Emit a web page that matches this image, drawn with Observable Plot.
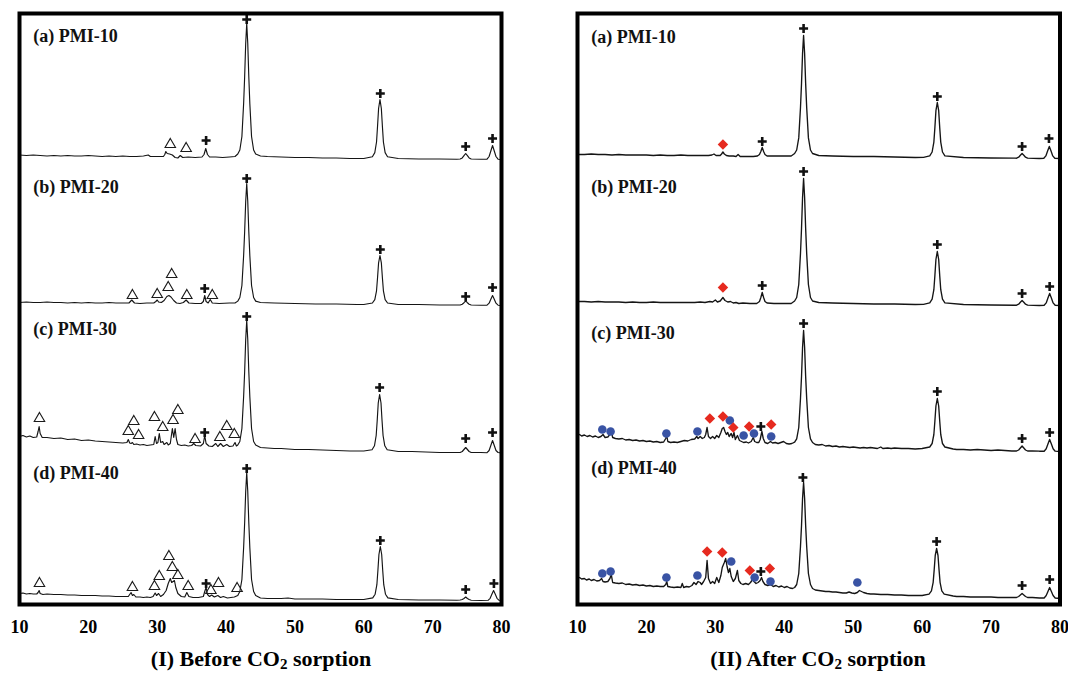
<!DOCTYPE html>
<html><head><meta charset="utf-8">
<script src="https://cdn.jsdelivr.net/npm/d3@7"></script>
<script src="https://cdn.jsdelivr.net/npm/@observablehq/plot@0.6"></script>
<style>
body{margin:0;background:#fff;}
#root{position:relative;width:1068px;height:673px;overflow:hidden;background:#fff}
.panel{position:absolute;top:0}
.panel svg{overflow:visible;font-family:"Liberation Serif","Times New Roman",serif;font-size:18px;font-weight:bold;fill:#000}
.title{position:absolute;top:646px;font-family:"Liberation Serif","Times New Roman",serif;font-weight:bold;font-size:22px;line-height:26px;text-align:center;white-space:nowrap;color:#000}
.title sub{font-size:15px;vertical-align:-3px;line-height:0}
</style></head>
<body><div id="root"></div>
<script>
// ---------- data ----------
const xTicks = [10,20,30,40,50,60,70,80];
const sampleNames = ["(a) PMI-10","(b) PMI-20","(c) PMI-30","(d) PMI-40"];
const panelTitleHead = ["(I) Before CO","(II) After CO"];
const panelTitleSub = "2";
const panelTitleTail = " sorption";

// (I) Before CO2 sorption: [2theta, intensity]
const beforeA = [[10,4.5],[11,4],[12,4.5],[13,4],[14,3.5],[15,4],[16,3.5],[17,4],[18,3.5],[19,3.5],[20,4],[21,3.5],[22,3],[23,3.5],[24,3],[25,3.5],[26,3],[27,3],[28,3.5],[28.7,4.5],[29,3],[30,3],[30.9,3],[31.1,5],[31.25,8],[31.45,6],[31.8,5.5],[32.2,4.5],[32.6,2],[33.0,1.5],[33.35,4],[33.7,2],[34.5,2.5],[35.5,2],[36.5,2.5],[36.8,5],[37.05,11],[37.3,5],[37.6,2.5],[38.5,2.5],[39.5,2],[40.5,2.5],[41.3,3],
[41.7,5.5],[42.0,9.5],[42.3,23],[42.55,56],[42.7,83],[42.85,116],[43.0,136],[43.15,116],[43.3,83],[43.45,56],[43.7,23],[44.0,9.5],[44.3,5.5],
[45,3.5],[46,3],[48,2.5],[50,2],[52,2],[54,1.5],[56,1.5],[58,1],[60,1],
[61.25,2.8],[61.6,6.9],[61.85,17.5],[62.0,33.5],[62.15,51],[62.35,60],[62.55,51],[62.7,33.5],[62.85,17.5],[63.1,6.9],[63.45,2.8],
[65,1],[68,0.5],[71,0.5],[73.5,0.3],[74.0,0.5],[74.3,1.6],[74.55,3.8],[74.8,6],[75.05,3.8],[75.3,1.6],[75.6,0.5],
[77,0.3],[77.9,0.3],[78.2,3],[78.45,8.5],[78.7,14],[78.95,8.5],[79.2,3],[79.5,0.3],[80,0]];
const beforeB = [[10,3],[11,3.5],[12,3],[13,3],[14,3.5],[15,3],[16,3],[17,2.5],[18,3],[19,2.5],[20,3],[21,2.5],[22,2.5],[23,3],[24,2.5],[25,2.5],[25.9,2.5],[26.3,5.5],[26.7,2.5],[27.5,2],[28.5,2.5],[29.5,2.5],[29.8,4],[30.0,5.5],[30.2,3.5],[30.6,3],[31.0,5],[31.4,9],[31.7,10],[32.0,8.5],[32.4,5],[32.8,2.5],[33.3,2],[33.8,3],[34.2,5.5],[34.6,2.5],[35.5,2],[36.4,2],[36.7,4],[36.9,10],[37.1,4],[37.4,2.5],[37.7,6],[38.0,2.5],[39,2],[40.5,2.5],[41.3,2.5],
[41.7,4.4],[42.0,8],[42.3,20],[42.55,50],[42.7,74],[42.85,104],[43.0,122],[43.15,104],[43.3,74],[43.45,50],[43.7,20],[44.0,8],[44.3,4.4],
[45,3],[47,2.5],[50,2],[53,1.5],[56,1.5],[59,1],[60,1],
[61.25,2.5],[61.6,5.9],[61.85,14.7],[62.0,28],[62.15,42.7],[62.35,50],[62.55,42.7],[62.7,28],[62.85,14.7],[63.1,5.9],[63.45,2.5],
[65,1],[68,1],[71,0.5],[73.5,0.5],[74.0,0.5],[74.3,1.3],[74.55,2.8],[74.8,4.5],[75.05,2.8],[75.3,1.3],[75.6,0.5],
[77,0.3],[77.9,0.3],[78.2,2.3],[78.45,6.3],[78.7,10],[78.95,6.3],[79.2,2.3],[79.5,0.3],[80,0]];
const beforeC = [[10,17],[10.5,18],[11,16.5],[11.5,17.5],[12,16],[12.5,16.5],[12.7,22],[12.85,27],[13.0,20],[13.3,16],[14,16],[15,15],[16,15.5],[17,14],[18,14.5],[19,13],[20,13.5],[21,12.5],[22,12],[23,11.5],[24,11],[25,10.5],[25.6,11],[25.8,14],[26.0,10.5],[26.2,10],[26.4,11],[26.6,9],[27,9.5],[27.5,8.5],[28,9],[28.5,8],[29,8.5],[29.5,9],[29.7,17],[29.9,10],[30.1,11],[30.3,20],[30.5,11],[30.8,12],[31.0,9],[31.4,11],[31.6,8.5],[31.9,10],[32.1,20],[32.2,25],[32.4,16],[32.6,25],[32.8,14],[33.0,9],[33.5,8],[34,8.5],[34.5,7.5],[35,8],[35.3,10],[35.6,8],[36.3,7.5],[36.7,10],[36.9,18],[37.1,10],[37.5,7.5],[38.0,7],[38.5,10],[38.8,7],[39.2,10],[39.6,7],[40.1,9],[40.5,7],[41.0,7.5],[41.3,11],[41.5,7.5],
[41.7,8.5],[42.0,12],[42.3,25],[42.55,57],[42.7,82],[42.85,114],[43.0,133],[43.15,114],[43.3,82],[43.45,57],[43.7,25],[44.0,12],[44.3,8.5],
[45,6],[46,5.5],[47,5],[48,5],[49,4.5],[50,4],[52,4],[54,3.5],[56,3],[58,2.5],[60,2.5],
[61.2,3.7],[61.55,7.7],[61.8,18],[61.95,33],[62.1,50.5],[62.3,59],[62.5,50.5],[62.65,33],[62.8,18],[63.05,7.7],[63.4,3.7],
[65,2],[67,2],[69,1.5],[71,1],[73,1],[74.0,1],[74.3,2],[74.55,4],[74.8,6],[75.05,4],[75.3,2],[75.6,1],
[77,1],[77.9,0.8],[78.2,3],[78.45,8],[78.7,13],[78.95,8],[79.2,3],[79.5,1],[80,0.5]];
const beforeD = [[10,7],[10.5,7.5],[11,6.5],[11.5,7],[12,6.5],[12.5,6.5],[12.7,8],[12.85,10],[13.0,7],[13.4,6],[14,6.5],[15,6],[16,6],[17,5.5],[18,5.5],[19,5],[20,5],[21,5],[22,4.5],[23,4.5],[24,4],[25,4],[25.8,4],[26.2,8],[26.4,5],[26.6,6],[26.9,3.5],[27.5,3.5],[28,3],[28.5,3.5],[29,3],[29.4,4],[29.7,7.5],[29.9,5],[30.2,7],[30.5,4],[30.9,6],[31.3,10],[31.6,17],[31.9,22],[32.1,18],[32.3,19],[32.5,20],[32.7,13],[33.0,7],[33.5,4],[34.0,3.5],[34.3,8],[34.6,4],[35.2,3],[36,3],[36.7,4],[36.9,9],[37.1,13],[37.3,6],[37.6,4],[37.9,5.5],[38.3,3.5],[38.8,5],[39.2,3],[39.6,4],[40.2,2.5],[40.7,3],[41.2,3.5],
[41.7,5],[42.0,9],[42.3,21],[42.55,53],[42.7,78],[42.85,109],[43.0,128],[43.15,109],[43.3,78],[43.45,53],[43.7,21],[44.0,9],[44.3,5],
[45,2.5],[46,2],[47,2],[48,2],[49,2.5],[49.5,2],[50,1.5],[52,1.5],[54,1.5],[56,1],[58,1],[60,1],
[61.3,2.6],[61.65,6.3],[61.9,15.8],[62.05,30],[62.2,46],[62.4,54],[62.6,46],[62.75,30],[62.9,15.8],[63.15,6.3],[63.5,2.6],
[65,1],[68,0.5],[71,0.5],[73.5,0.3],[74.0,0.5],[74.3,1],[74.55,2],[74.8,3.5],[75.05,2],[75.3,1],[75.6,0.3],
[77,0],[78.05,0.2],[78.35,2.2],[78.6,6.2],[78.85,10],[79.1,6.2],[79.35,2.2],[79.65,0.2],[80,0]];

// (II) After CO2 sorption
const afterA = [[10,4],[11,4],[12,4.5],[13,4],[14,4],[15,3.5],[16,4],[17,3.5],[18,3.5],[19,3.5],[20,3.5],[21,3],[22,3.5],[23,3],[24,3],[25,3.5],[26,3],[27,3],[28,3],[29,3],[29.5,3.5],[29.8,4.5],[30.1,3],[30.7,3],[30.9,4.5],[31.1,6.5],[31.3,4.5],[31.6,3],[32,2.5],[32.6,2.5],[33.0,2],[33.3,4],[33.6,2],[34.5,2],[35.5,2],[36.1,2.5],[36.4,4],[36.6,7],[36.8,11],[37.0,7],[37.2,4],[37.5,2.5],[38.5,2.5],[40,2.5],[41,2.5],
[41.5,5],[41.8,8.5],[42.1,20.6],[42.35,51],[42.5,75],[42.65,105],[42.8,123],[42.95,105],[43.1,75],[43.25,51],[43.5,20.6],[43.8,8.5],[44.1,5],
[45,3],[47,2.5],[50,2],[53,2],[56,1.5],[59,1],[60.2,1.2],
[61.1,2.7],[61.45,6.5],[61.7,16.4],[61.85,31],[62.0,47.8],[62.2,56],[62.4,47.8],[62.55,31],[62.7,16.4],[62.95,6.5],[63.3,2.7],
[66,1],[70,0.5],[73.5,0.3],[73.7,0.3],[74.0,1.3],[74.25,3.3],[74.5,5],[74.75,3.3],[75.0,1.3],[75.3,0.3],
[77,0],[77.65,0.2],[77.95,2.6],[78.2,7.4],[78.45,12],[78.7,7.4],[78.95,2.6],[79.25,0.2],[80,0]];
const afterB = [[10,4],[11,4],[12,3.5],[13,4],[14,3.5],[15,3.5],[16,3.5],[17,3],[18,3.5],[19,3],[20,3],[21,3.5],[22,3],[23,3],[24,3],[25,3],[26,3],[27,3],[27.8,3.5],[28.5,3],[29.2,4],[29.6,3.5],[30.0,5.5],[30.3,3.5],[30.7,4.5],[31.1,8],[31.4,5],[31.8,3.5],[32.2,4],[32.6,2.5],[33.0,3],[33.4,2],[34,2.5],[35,2],[36,2],[36.4,4],[36.6,8],[36.8,13],[37.0,8],[37.2,4],[37.5,2.5],[38.5,2],[40,2],[41,2],
[41.5,4.5],[41.8,8],[42.1,21],[42.35,52],[42.5,77],[42.65,108],[42.8,127],[42.95,108],[43.1,77],[43.25,52],[43.5,21],[43.8,8],[44.1,4.5],
[45,3],[47,2.5],[50,2],[53,1.5],[56,1.5],[59,1],[60.2,1.2],
[61.1,2.6],[61.45,6.3],[61.7,15.8],[61.85,30],[62.0,46],[62.2,54],[62.4,46],[62.55,30],[62.7,15.8],[62.95,6.3],[63.3,2.6],
[66,1],[70,0.5],[73.5,0.3],[73.7,0.3],[74.0,1.3],[74.25,3.3],[74.5,5],[74.75,3.3],[75.0,1.3],[75.3,0.3],
[77,0],[77.7,0.2],[78.0,2.6],[78.25,7.4],[78.5,12],[78.75,7.4],[79.0,2.6],[79.3,0.2],[80,0]];
const afterC = [[10,16],[10.3,17],[10.6,15.5],[11,16.5],[11.4,15],[11.8,16],[12.2,14.5],[12.6,15.5],[13,14],[13.4,15],[13.7,17],[14,14],[14.4,14.5],[14.7,17],[14.9,21],[15.1,14],[15.5,13],[16,12.5],[16.5,13],[17,11.5],[17.5,12],[18,11],[18.5,11.5],[19,10.5],[19.5,11],[20,10],[20.5,10.5],[21,9.5],[21.5,10],[22,9],[22.5,9.5],[22.8,13],[22.95,16],[23.1,10],[23.5,9],[24,9.5],[24.5,9],[25,10],[25.5,11],[26,10.5],[26.5,12],[27,12.5],[27.3,15],[27.5,13],[27.8,15],[28.1,13],[28.4,14],[28.6,17],[28.8,24],[29.0,15],[29.3,13],[29.6,15],[29.9,13],[30.2,16],[30.5,14],[30.8,19],[31.0,23],[31.2,24],[31.4,20],[31.6,17],[31.8,19],[32.0,15],[32.3,18],[32.5,14],[32.7,19],[32.9,12],[33.2,16],[33.5,11],[33.8,10],[34.1,9],[34.5,9.5],[34.8,8.5],[35.2,10],[35.5,14],[35.7,10],[36.0,9],[36.3,9],[36.5,12],[36.75,20],[36.95,13],[37.2,9],[37.6,8],[38.0,10],[38.3,8.5],[38.7,9],[39.1,8],[39.5,9],[39.9,10],[40.3,8],[40.7,7.5],[41.1,8],
[41.5,9.3],[41.8,12.7],[42.1,24],[42.35,53],[42.5,75],[42.65,104],[42.8,121],[42.95,104],[43.1,75],[43.25,53],[43.5,24],[43.8,12.7],[44.1,9],
[44.5,7],[45,6.5],[45.5,7],[46,5.5],[46.5,6],[47,5],[47.5,5.5],[48,4.5],[48.5,5],[49,4.5],[49.5,4],[50,4.5],[50.5,4],[51,3.5],[51.5,4],[52,3.5],[52.5,4],[53,3.5],[53.5,3],[54,4.5],[54.3,3],[55,3.5],[55.5,3],[56,3.5],[57,3],[58,3],[59,2.5],[60,3],
[61.1,4.5],[61.45,8],[61.7,17],[61.85,30.5],[62.0,45.5],[62.2,53],[62.4,45.5],[62.55,30.5],[62.7,17],[62.95,8],[63.3,4.5],
[64.5,2.5],[65,2],[66,2],[67,1.5],[68,2],[69,1.5],[70,1],[71,1.5],[72,1],[73,0.5],[73.7,0.5],[74.0,1.5],[74.25,3.5],[74.5,5.5],[74.75,3.5],[75.0,1.5],[75.3,0.5],[76,0.5],
[77,0.3],[77.7,0.3],[78.0,2.7],[78.25,7.5],[78.5,12],[78.75,7.5],[79.0,2.7],[79.3,0.3],[80,0]];
const afterD = [[10,20],[10.3,21],[10.6,19.5],[11,20],[11.3,18.5],[11.7,19.5],[12,18],[12.4,19],[12.8,17.5],[13.2,18],[13.5,20],[13.7,17],[14,16.5],[14.4,17],[14.7,20],[14.9,24],[15.1,16],[15.5,15.5],[16,15],[16.5,15.5],[17,14],[17.5,14.5],[18,13.5],[18.5,14],[19,13],[19.5,13.5],[20,12.5],[20.5,13],[21,12],[21.5,12.5],[22,12],[22.5,12],[22.8,14],[22.95,17],[23.1,12],[23.5,11.5],[24,11],[24.5,11.5],[25,11],[25.2,15],[25.4,11],[25.8,12],[26.2,11.5],[26.6,13],[26.9,16],[27.2,14],[27.5,17],[27.8,16],[28.0,14],[28.3,17],[28.6,21],[28.8,38],[29.0,20],[29.3,15],[29.6,17],[29.9,15],[30.2,21],[30.5,16],[30.8,23],[31.0,31],[31.3,36],[31.5,40],[31.7,32],[31.9,26],[32.1,30],[32.3,22],[32.6,17],[32.9,20],[33.2,28],[33.4,18],[33.7,15],[34.0,14],[34.4,15],[34.8,14],[35.1,16],[35.4,19],[35.6,17],[35.9,15],[36.2,16],[36.5,18],[36.7,21],[36.9,17],[37.2,14],[37.6,13],[38.0,14],[38.4,12],[38.8,13],[39.2,11.5],[39.6,12.5],[40.0,11],[40.4,12],[40.8,10.5],[41.2,10],
[41.5,11],[41.8,14],[42.1,25],[42.35,52],[42.5,73],[42.65,100],[42.8,116],[42.95,100],[43.1,73],[43.25,52],[43.5,25],[43.8,14],[44.1,10],
[44.5,8.5],[45,8],[45.5,7.5],[46,7],[46.5,7],[47,6.5],[47.5,6.5],[48,6],[48.5,5.5],[49,5.5],[49.4,6.5],[49.8,5.5],[50.2,5],[50.6,6],[50.9,8],[51.2,7],[51.5,6],[52,5],[52.5,4.5],[53,4.5],[54,4],[55,4],[56,3.5],[57,3.5],[58,3],[59,3],[60,3],
[61.0,4.4],[61.35,7.7],[61.6,16.2],[61.75,28.9],[61.9,43],[62.1,50],[62.3,43],[62.45,28.9],[62.6,16.2],[62.85,7.7],[63.2,4.4],
[64.5,2.5],[65,2],[66,2],[67,1.5],[68,1.5],[69,1.5],[70,1.5],[71,1],[72,1],[73,1],[73.7,1],[74.0,2],[74.25,3.5],[74.5,5],[74.75,3.5],[75.0,2],[75.3,1],[76,1],
[77,0.5],[77.7,0.5],[78.0,3],[78.25,7],[78.5,11],[78.75,7],[79.0,3],[79.3,0.5],[80,0]];

// phase markers [2theta, level]; one list per sample (a)-(d)
const beforePlus = [
  [[37.1,19],[43.0,140],[62.4,66],[74.8,13],[78.7,21]],
  [[36.9,17],[43.0,127],[62.4,56],[74.8,9],[78.7,18]],
  [[36.9,21],[43.0,137],[62.3,66],[74.8,15],[78.7,21]],
  [[37.1,17],[43.0,132],[62.4,60],[74.8,11],[78.9,17]]];
const beforeTriangle = [
  [[31.9,15],[34.2,11]],
  [[26.4,10],[30.0,11],[31.6,18],[32.1,31],[34.3,10],[38.0,10]],
  [[12.9,35],[25.8,22],[26.6,32],[27.3,18],[29.6,36],[30.8,26],[32.3,33],[33.0,43],[35.5,14],[39.1,16],[40.1,27],[41.2,19]],
  [[12.9,17],[26.4,13],[29.6,14],[30.3,24],[31.7,44],[32.2,33],[33.0,25],[34.5,14],[37.8,10],[38.9,17],[41.6,12]]];
const afterPlus = [
  [[36.8,17],[42.8,130],[62.2,62],[74.5,12],[78.4,20]],
  [[36.8,20],[42.8,134],[62.2,61],[74.5,12],[78.5,19]],
  [[36.6,25],[42.8,128],[62.2,60],[74.5,13],[78.5,19]],
  [[36.6,27],[42.7,121],[62.1,57],[74.5,13],[78.5,19]]];
const afterDiamond = [
  [[31.1,14]],
  [[31.1,18]],
  [[29.2,33],[31.1,35],[32.6,24],[34.9,25],[38.1,27]],
  [[28.8,47],[31.0,46],[35.0,28],[37.9,30]]];
const afterCircle = [
  [],
  [],
  [[13.6,22],[14.8,20],[22.9,18],[27.4,20],[32.1,31],[34.1,16],[35.6,18],[38.1,15]],
  [[13.6,25],[14.8,27],[22.9,21],[27.4,23],[32.3,37],[35.7,21],[38.0,17],[50.6,16]]];

// ---------- drawing ----------
const root = document.getElementById("root");
const panels = [
  {left: 0, width: 534, marginRight: 33, sw: 1.15, traces: [beforeA,beforeB,beforeC,beforeD],
   offsets: [445,299,151,4], labelLevels: [123,118,124,127],
   plus: beforePlus, tri: beforeTriangle, dia: [], circ: [], titleCenter: 261, title: 0},
  {left: 558, width: 510, marginRight: 8.5, sw: 1.35, traces: [afterA,afterB,afterC,afterD],
   offsets: [446,299,153,6], labelLevels: [121,118,118,130],
   plus: afterPlus, tri: [], dia: afterDiamond, circ: afterCircle, titleCenter: 818, title: 1}
];

function flat(sets, offsets) {
  return sets.flatMap((set, i) => set.map(([x, v]) => ({x, y: v + offsets[i]})));
}

for (const p of panels) {
  const rows = [];
  p.traces.forEach((tr, i) => tr.forEach(([x, v]) => rows.push({s: i, x, y: v + p.offsets[i]})));
  const labels = sampleNames.map((t, i) => ({t, x: 12, y: p.labelLevels[i] + p.offsets[i]}));
  const chart = Plot.plot({
    width: p.width, height: 645,
    marginLeft: 19, marginRight: p.marginRight, marginTop: 13, marginBottom: 41,
    x: {domain: [10, 80], ticks: xTicks, tickSize: 0, tickPadding: 16, label: null},
    y: {domain: [0, 591], axis: null},
    marks: [
      Plot.line(rows, {x: "x", y: "y", z: "s", stroke: "#151515", strokeWidth: p.sw}),
      Plot.dot(flat(p.tri, p.offsets), {x: "x", y: "y", symbol: "triangle2", r: 5, stroke: "#1a1a1a", strokeWidth: 1.1, fill: "none"}),
      Plot.dot(flat(p.circ, p.offsets), {x: "x", y: "y", symbol: "circle", r: 4.3, fill: "#3953a4", stroke: "none"}),
      Plot.dot(flat(p.dia, p.offsets), {x: "x", y: "y", symbol: "square", rotate: 45, r: 4.2, fill: "#e62a1f", stroke: "none"}),
      Plot.dot(flat(p.plus, p.offsets), {x: "x", y: "y", symbol: "plus", r: 3, stroke: "#111", strokeWidth: 2.6}),
      Plot.text(labels, {x: "x", y: "y", text: "t", textAnchor: "start", fontSize: 18, fontWeight: "bold", fontFamily: "Liberation Serif", fill: "#111"}),
      Plot.frame({stroke: "#000", strokeWidth: 4})
    ]
  });
  const div = document.createElement("div");
  div.className = "panel";
  div.style.left = p.left + "px";
  div.style.width = p.width + "px";
  div.appendChild(chart);
  root.appendChild(div);

  const t = document.createElement("div");
  t.className = "title";
  t.style.left = (p.titleCenter - 200) + "px";
  t.style.width = "400px";
  t.appendChild(document.createTextNode(panelTitleHead[p.title]));
  const sub = document.createElement("sub");
  sub.textContent = panelTitleSub;
  t.appendChild(sub);
  t.appendChild(document.createTextNode(panelTitleTail));
  root.appendChild(t);
}
</script>
</body></html>
